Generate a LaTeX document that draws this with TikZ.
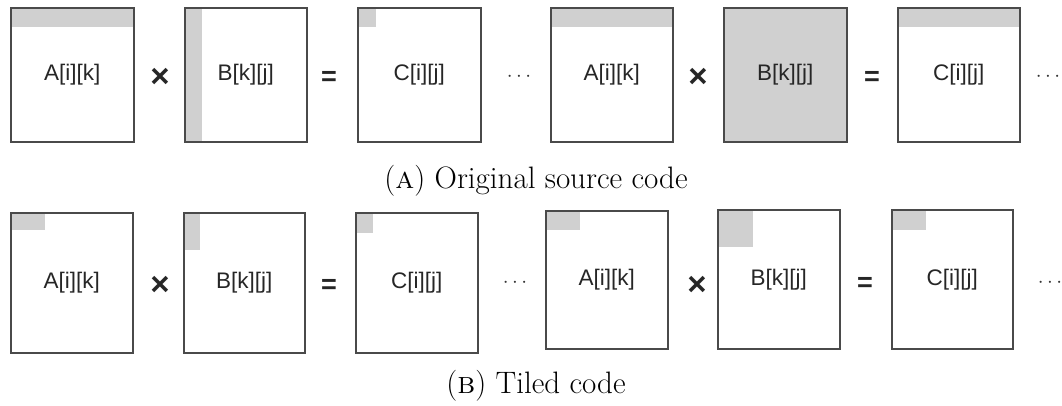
\documentclass[tikz,border=0pt]{standalone}
\usepackage{fontspec}
\newfontfamily\arialfont{Liberation Sans}
\definecolor{edge}{HTML}{4A4A4A}
\definecolor{tile}{HTML}{D0D0D0}
\tikzset{
  matbox/.style={draw=edge, line width=1.5pt, inner sep=0pt, anchor=north west},
  matlabel/.style={font=\arialfont\fontsize{22.5}{22.5}\selectfont, text=black!85},
  opsym/.style={font=\arialfont\bfseries\fontsize{#1}{#1}\selectfont, text=black!85, inner sep=0pt},
  dotsym/.style={font=\fontsize{20}{20}\selectfont, text=black!80, inner sep=0pt},
  caption/.style={font=\fontsize{31}{31}\selectfont, inner sep=0pt}
}
% matrix box: name, top-left x, y, bottom-right x, y, label, shaded corner x, y
\newcommand\matrixbox[8]{%
  \fill[tile] (#2,#3) rectangle (#7,#8);
  \node[matbox, minimum width=#4pt-#2pt, minimum height=#5pt-#3pt] (#1) at (#2,#3) {};
  \node[matlabel] at (#1.center) {#6};
}
\begin{document}
\begin{tikzpicture}[x=1pt, y=-1pt]
\useasboundingbox (0,0) rectangle (1062,405);
% ---- original loop nest ----
\matrixbox{a1}{10}{7}{133}{141}{A[i][k]}{133}{27}
\matrixbox{b1}{184}{7}{306}{141}{B[k][j]}{202}{141}
\matrixbox{c1}{357}{7}{480}{141}{C[i][j]}{376}{27}
\matrixbox{a2}{550}{7}{672}{141}{A[i][k]}{672}{27}
\matrixbox{b2}{723}{7}{846}{141}{B[k][j]}{846}{141}
\matrixbox{c2}{897}{7}{1019}{141}{C[i][j]}{1019}{27}
\node[opsym=33] (x1) at (160,78) {×};
\node[opsym=27] (e1) at (329,78) {=};
\node[dotsym] (d1) at (519,77) {$\cdots$};
\node[opsym=33] (x2) at (698,78) {×};
\node[opsym=27] (e2) at (872,78) {=};
\node[dotsym] (d2) at (1048,77) {$\cdots$};
\node[caption] (capA) at (536,181) {(\textsc{a}) Original source code};
% ---- tiled loop nest ----
\matrixbox{ta1}{10}{212}{132}{352}{A[i][k]}{45}{230}
\matrixbox{tb1}{183}{212}{304}{352}{B[k][j]}{200}{250}
\matrixbox{tc1}{355}{212}{477}{352}{C[i][j]}{373}{233}
\matrixbox{ta2}{545}{210}{667}{348}{A[i][k]}{580}{230}
\matrixbox{tb2}{717}{209}{839}{348}{B[k][j]}{753}{247}
\matrixbox{tc2}{891}{209}{1012}{348}{C[i][j]}{926}{230}
\node[opsym=33] (tx1) at (160,286) {×};
\node[opsym=27] (te1) at (329,286) {=};
\node[dotsym] (td1) at (515,283) {$\cdots$};
\node[opsym=33] (tx2) at (697,286) {×};
\node[opsym=27] (te2) at (865,284) {=};
\node[dotsym] (td2) at (1050,283) {$\cdots$};
\node[caption] (capB) at (536,386) {(\textsc{b}) Tiled code};
\end{tikzpicture}
\end{document}
